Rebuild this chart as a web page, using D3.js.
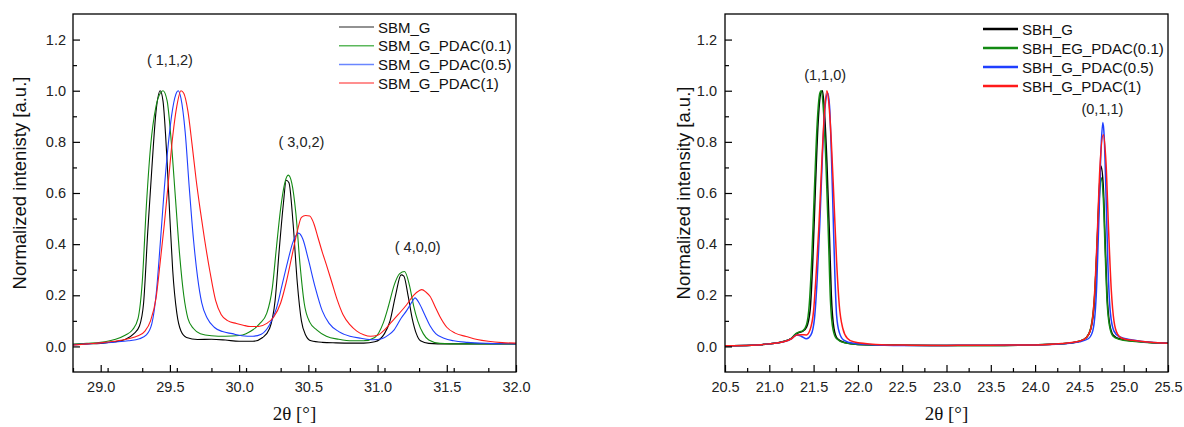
<!DOCTYPE html>
<html><head><meta charset="utf-8">
<script src="https://cdn.jsdelivr.net/npm/d3@7"></script>
<style>
html,body{margin:0;padding:0;background:#fff;}
svg{display:block;font-family:"Liberation Sans",Arial,sans-serif;}
</style></head>
<body><svg id="c" width="1184" height="427"></svg>
<script>
// ---------- DATA ----------
const leftNames = ["SBM_G","SBM_G_PDAC(0.1)","SBM_G_PDAC(0.5)","SBM_G_PDAC(1)"];
const rightNames = ["SBH_G","SBH_EG_PDAC(0.1)","SBH_G_PDAC(0.5)","SBH_G_PDAC(1)"];
const leftPeaks = [{label:"( 1,1,2)", x:29.50, y:1.12},{label:"( 3,0,2)", x:30.45, y:0.80},{label:"( 4,0,0)", x:31.29, y:0.39}];
const rightPeaks = [{label:"(1,1,0)", x:21.63, y:1.06},{label:"(0,1,1)", x:24.76, y:0.93}];
const xTicksLeft = [29.0,29.5,30.0,30.5,31.0,31.5,32.0];
const xTicksRight = [20.5,21.0,21.5,22.0,22.5,23.0,23.5,24.0,24.5,25.0,25.5];
const yTicks = [0.0,0.2,0.4,0.6,0.8,1.0,1.2];

const sbmG = [[28.80,0.008],[28.90,0.010],[29.00,0.012],[29.10,0.018],[29.18,0.028],[29.24,0.050],[29.28,0.080],[29.31,0.170],[29.34,0.450],[29.37,0.700],[29.40,0.920],[29.43,1.000],[29.45,0.960],[29.48,0.720],[29.50,0.500],[29.52,0.300],[29.55,0.130],[29.58,0.060],[29.62,0.035],[29.70,0.027],[29.80,0.028],[29.90,0.025],[30.00,0.020],[30.10,0.020],[30.17,0.035],[30.22,0.070],[30.26,0.180],[30.29,0.380],[30.32,0.560],[30.34,0.650],[30.36,0.640],[30.39,0.480],[30.42,0.250],[30.45,0.100],[30.48,0.045],[30.52,0.022],[30.60,0.016],[30.70,0.014],[30.80,0.013],[30.90,0.013],[30.98,0.018],[31.05,0.050],[31.09,0.100],[31.13,0.200],[31.17,0.280],[31.19,0.275],[31.22,0.200],[31.25,0.110],[31.28,0.050],[31.31,0.022],[31.37,0.012],[31.50,0.010],[31.70,0.010],[32.00,0.010]];
const sbmPdac01 = [[28.80,0.008],[28.90,0.012],[29.00,0.016],[29.10,0.027],[29.18,0.045],[29.23,0.065],[29.27,0.110],[29.30,0.250],[29.33,0.550],[29.36,0.780],[29.40,0.940],[29.43,0.990],[29.45,1.000],[29.48,0.960],[29.51,0.800],[29.54,0.580],[29.57,0.360],[29.60,0.200],[29.63,0.110],[29.67,0.070],[29.72,0.050],[29.80,0.042],[29.90,0.040],[30.00,0.043],[30.05,0.050],[30.10,0.065],[30.15,0.090],[30.20,0.130],[30.24,0.230],[30.27,0.390],[30.30,0.540],[30.33,0.640],[30.355,0.670],[30.38,0.640],[30.41,0.520],[30.44,0.320],[30.47,0.170],[30.51,0.095],[30.56,0.065],[30.63,0.040],[30.72,0.028],[30.82,0.022],[30.90,0.022],[30.98,0.035],[31.04,0.090],[31.08,0.160],[31.12,0.240],[31.16,0.285],[31.195,0.293],[31.23,0.240],[31.26,0.160],[31.29,0.100],[31.33,0.050],[31.37,0.025],[31.45,0.012],[31.60,0.010],[32.00,0.010]];
const sbmPdac05 = [[28.80,0.006],[28.90,0.010],[29.00,0.013],[29.10,0.017],[29.20,0.022],[29.28,0.030],[29.33,0.045],[29.37,0.090],[29.40,0.200],[29.43,0.400],[29.46,0.620],[29.49,0.800],[29.52,0.930],[29.55,0.995],[29.56,1.000],[29.58,0.970],[29.61,0.840],[29.64,0.620],[29.67,0.420],[29.70,0.270],[29.73,0.170],[29.77,0.110],[29.82,0.075],[29.88,0.058],[29.95,0.050],[30.02,0.042],[30.10,0.040],[30.16,0.048],[30.22,0.085],[30.27,0.150],[30.31,0.240],[30.35,0.330],[30.39,0.410],[30.43,0.443],[30.46,0.420],[30.50,0.340],[30.55,0.230],[30.60,0.140],[30.65,0.090],[30.72,0.058],[30.80,0.040],[30.88,0.032],[30.97,0.026],[31.03,0.030],[31.08,0.045],[31.12,0.065],[31.17,0.110],[31.21,0.140],[31.25,0.175],[31.27,0.190],[31.30,0.170],[31.34,0.125],[31.38,0.080],[31.42,0.050],[31.48,0.032],[31.55,0.022],[31.65,0.016],[31.80,0.012],[32.00,0.010]];
const sbmPdac1 = [[28.80,0.005],[28.90,0.010],[29.00,0.014],[29.10,0.020],[29.20,0.030],[29.27,0.042],[29.32,0.060],[29.36,0.100],[29.40,0.190],[29.43,0.330],[29.46,0.480],[29.49,0.650],[29.52,0.820],[29.55,0.940],[29.58,1.000],[29.60,0.990],[29.63,0.920],[29.66,0.790],[29.69,0.650],[29.72,0.530],[29.75,0.420],[29.79,0.290],[29.83,0.180],[29.87,0.125],[29.92,0.100],[29.98,0.090],[30.03,0.083],[30.08,0.078],[30.14,0.078],[30.20,0.090],[30.25,0.115],[30.30,0.170],[30.34,0.250],[30.38,0.350],[30.42,0.450],[30.45,0.505],[30.48,0.512],[30.51,0.510],[30.54,0.480],[30.57,0.425],[30.60,0.370],[30.63,0.320],[30.67,0.250],[30.71,0.180],[30.75,0.125],[30.80,0.085],[30.85,0.060],[30.90,0.046],[30.95,0.040],[31.00,0.044],[31.05,0.065],[31.10,0.095],[31.15,0.125],[31.21,0.163],[31.26,0.200],[31.30,0.218],[31.32,0.222],[31.35,0.212],[31.38,0.195],[31.42,0.150],[31.45,0.117],[31.50,0.075],[31.56,0.052],[31.64,0.039],[31.72,0.027],[31.80,0.020],[31.90,0.015],[32.00,0.013]];

const sbhG = [[20.50,0.003],[20.80,0.005],[21.00,0.010],[21.15,0.018],[21.25,0.032],[21.30,0.048],[21.34,0.055],[21.38,0.060],[21.42,0.075],[21.46,0.140],[21.49,0.330],[21.52,0.620],[21.55,0.870],[21.58,0.990],[21.60,1.000],[21.62,0.930],[21.65,0.720],[21.68,0.420],[21.70,0.200],[21.73,0.070],[21.77,0.030],[21.85,0.015],[22.00,0.008],[22.50,0.005],[23.00,0.004],[23.50,0.004],[24.00,0.006],[24.30,0.010],[24.50,0.020],[24.58,0.035],[24.63,0.070],[24.67,0.180],[24.70,0.400],[24.72,0.580],[24.745,0.705],[24.77,0.620],[24.79,0.420],[24.81,0.220],[24.84,0.090],[24.88,0.045],[24.95,0.030],[25.10,0.022],[25.30,0.015],[25.50,0.012]];
const sbhPdac01 = [[20.50,0.003],[20.80,0.005],[21.00,0.010],[21.15,0.018],[21.25,0.032],[21.30,0.050],[21.34,0.057],[21.38,0.062],[21.42,0.085],[21.45,0.160],[21.48,0.350],[21.51,0.620],[21.54,0.870],[21.57,0.990],[21.585,1.000],[21.61,0.930],[21.64,0.710],[21.67,0.400],[21.69,0.180],[21.72,0.065],[21.76,0.030],[21.85,0.014],[22.00,0.008],[22.50,0.005],[23.00,0.004],[23.50,0.004],[24.00,0.006],[24.30,0.010],[24.50,0.020],[24.58,0.035],[24.63,0.075],[24.67,0.190],[24.70,0.390],[24.72,0.550],[24.745,0.660],[24.77,0.580],[24.79,0.380],[24.81,0.190],[24.84,0.080],[24.88,0.040],[24.95,0.028],[25.10,0.020],[25.30,0.014],[25.50,0.012]];
const sbhPdac05 = [[20.50,0.003],[20.80,0.005],[21.00,0.010],[21.15,0.017],[21.25,0.030],[21.31,0.045],[21.36,0.040],[21.42,0.030],[21.47,0.045],[21.51,0.110],[21.54,0.260],[21.57,0.480],[21.60,0.750],[21.63,0.940],[21.66,0.990],[21.68,0.940],[21.70,0.760],[21.72,0.520],[21.74,0.280],[21.76,0.120],[21.79,0.055],[21.84,0.025],[21.95,0.012],[22.20,0.006],[22.60,0.004],[23.00,0.004],[23.50,0.005],[24.00,0.006],[24.30,0.010],[24.50,0.018],[24.60,0.030],[24.65,0.060],[24.69,0.200],[24.72,0.500],[24.745,0.780],[24.765,0.876],[24.78,0.820],[24.80,0.600],[24.82,0.340],[24.85,0.130],[24.89,0.060],[24.95,0.038],[25.10,0.025],[25.30,0.016],[25.50,0.012]];
const sbhPdac1 = [[20.50,0.003],[20.80,0.005],[21.00,0.010],[21.15,0.017],[21.25,0.030],[21.31,0.045],[21.36,0.046],[21.42,0.045],[21.46,0.065],[21.50,0.140],[21.53,0.290],[21.56,0.470],[21.59,0.700],[21.62,0.900],[21.65,1.000],[21.67,0.960],[21.70,0.800],[21.73,0.570],[21.76,0.330],[21.79,0.160],[21.83,0.070],[21.88,0.032],[21.95,0.018],[22.20,0.008],[22.60,0.005],[23.00,0.004],[23.50,0.005],[24.00,0.006],[24.30,0.011],[24.50,0.020],[24.58,0.035],[24.63,0.070],[24.67,0.200],[24.70,0.420],[24.73,0.690],[24.77,0.828],[24.80,0.720],[24.83,0.450],[24.86,0.220],[24.89,0.100],[24.93,0.048],[24.98,0.032],[25.10,0.024],[25.30,0.016],[25.50,0.012]];

const colors = ["#000000","#138a13","#1f3fff","#ff1a1a"];
const legendColorsLeft = ["#6e6e6e","#5cb85c","#6a86ff","#ff6a6a"];

// ---------- DRAW ----------
const svg = d3.select("#c");
const plotTop = 14, plotBottom = 372;

const panels = [
  {x0:73, x1:516, dom:[28.8,32.0], major:xTicksLeft, step:0.25, series:[sbmG,sbmPdac01,sbmPdac05,sbmPdac1], names:leftNames,
   ylab:"Normalized intenisty [a.u.]", ylabX:19, ylabY:183, lw:1.1, leg:{lx0:339,lx1:374,tx:378,y0:27,dy:18.7,lw:1.5,cols:legendColorsLeft}, peaks:leftPeaks, ypad:7},
  {x0:725, x1:1168, dom:[20.5,25.5], major:xTicksRight, step:0.25, series:[sbhG,sbhPdac01,sbhPdac05,sbhPdac1], names:rightNames,
   ylab:"Normalized intensity [a.u.]", ylabX:683, ylabY:193, lw:1.5, leg:{lx0:983,lx1:1018,tx:1022,y0:29,dy:19,lw:2.6,cols:colors}, peaks:rightPeaks, ypad:8}
];

const y = d3.scaleLinear().domain([-0.1,1.3]).range([plotBottom, plotTop]);

panels.forEach(p => {
  const x = d3.scaleLinear().domain(p.dom).range([p.x0, p.x1]);
  const g = svg.append("g");
  const minorX = d3.range(p.dom[0], p.dom[1]+1e-9, p.step).filter(v => !p.major.some(m => Math.abs(m-v)<1e-6));
  const minorY = [0.1,0.3,0.5,0.7,0.9,1.1];

  const line = d3.line().x(d=>x(d[0])).y(d=>y(d[1])).curve(d3.curveMonotoneX);
  const clipId = "clip"+p.x0;
  svg.append("clipPath").attr("id",clipId).append("rect").attr("x",p.x0).attr("y",plotTop).attr("width",p.x1-p.x0).attr("height",plotBottom-plotTop);
  const cg = g.append("g").attr("clip-path",`url(#${clipId})`);
  p.series.forEach((s,i) => {
    cg.append("path").attr("d", line(s)).attr("fill","none").attr("stroke",colors[i]).attr("stroke-width",p.lw).attr("stroke-linejoin","round");
  });

  g.append("g").attr("transform",`translate(0,${plotBottom})`)
    .call(d3.axisBottom(x).tickValues(p.major).tickFormat(d3.format(".1f")).tickSizeInner(-7).tickSizeOuter(0).tickPadding(10));
  g.append("g").attr("transform",`translate(0,${plotBottom})`)
    .call(d3.axisBottom(x).tickValues(minorX).tickFormat("").tickSizeInner(-4).tickSizeOuter(0));
  g.append("g").attr("transform",`translate(${p.x0},0)`)
    .call(d3.axisLeft(y).tickValues(yTicks).tickFormat(d3.format(".1f")).tickSizeInner(-7).tickSizeOuter(0).tickPadding(p.ypad));
  g.append("g").attr("transform",`translate(${p.x0},0)`)
    .call(d3.axisLeft(y).tickValues(minorY).tickFormat("").tickSizeInner(-4).tickSizeOuter(0));
  g.selectAll(".domain").remove();
  g.selectAll(".tick line").attr("stroke","#000").attr("stroke-width",1.2);
  g.selectAll(".tick text").attr("font-family","'Liberation Sans',Arial,sans-serif").attr("font-size",14.5).attr("fill","#222");

  g.append("rect").attr("x",p.x0).attr("y",plotTop).attr("width",p.x1-p.x0).attr("height",plotBottom-plotTop)
    .attr("fill","none").attr("stroke","#000").attr("stroke-width",1.3);

  g.append("text").attr("transform",`translate(${p.ylabX},${p.ylabY}) rotate(-90)`).attr("text-anchor","middle")
    .attr("dominant-baseline","central").attr("font-size",18.5).attr("fill","#111").text(p.ylab);
  g.append("text").attr("x",(p.x0+p.x1)/2).attr("y",420).attr("text-anchor","middle")
    .attr("font-family","'Liberation Serif','Times New Roman',serif").attr("font-size",19).attr("fill","#111").text("2θ [°]");

  p.names.forEach((n,i) => {
    const yy = p.leg.y0 + i*p.leg.dy;
    g.append("line").attr("x1",p.leg.lx0).attr("x2",p.leg.lx1).attr("y1",yy).attr("y2",yy)
      .attr("stroke",p.leg.cols[i]).attr("stroke-width",p.leg.lw);
    g.append("text").attr("x",p.leg.tx).attr("y",yy).attr("dominant-baseline","central")
      .attr("font-size",15).attr("fill","#111").text(n);
  });

  p.peaks.forEach(pk => {
    g.append("text").attr("x",x(pk.x)).attr("y",y(pk.y)).attr("text-anchor","middle").attr("dominant-baseline","central")
      .attr("font-size",14.5).attr("fill","#222").text(pk.label);
  });
});
</script></body></html>
